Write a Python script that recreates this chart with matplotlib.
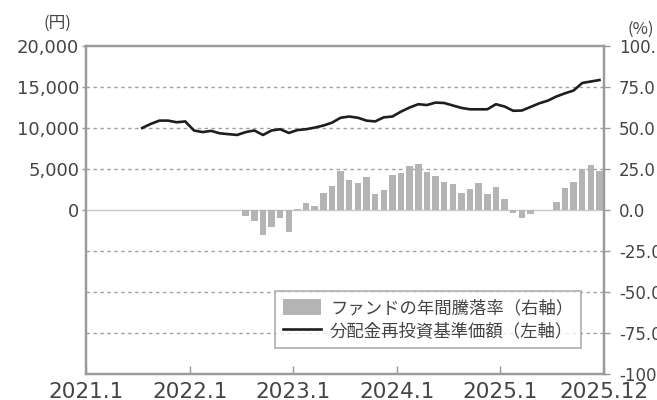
"""Fund NAV (reinvested) vs. annual return chart, 2021.1-2025.12."""

import matplotlib.pyplot as plt
import numpy as np
from matplotlib.ticker import FixedLocator, FuncFormatter

plt.switch_backend("Agg")
plt.rcParams["font.family"] = ["DejaVu Sans", "Noto Sans CJK JP"]

# months counted from 2021.1 (= 0)
NAV_START = 6      # 2021.7
RETURN_START = 18  # 2022.7

nav_values = [
    10000, 10500, 10900, 10900, 10700, 10800,
    9700, 9500, 9650, 9350, 9250, 9150, 9500, 9700, 9150, 9700, 9850, 9400,
    9750, 9850, 10050, 10300, 10650, 11250, 11400, 11250, 10900, 10800, 11300, 11400,
    12000, 12500, 12900, 12800, 13100, 13050, 12750, 12450, 12280, 12280, 12280, 12900,
    12620, 12100, 12130, 12560, 13000, 13330, 13840, 14230, 14570, 15490, 15670, 15850,
]

annual_return = [
    -3.5, -7.0, -15.5, -10.5, -5.0, -13.5,
    0.5, 4.0, 2.5, 10.5, 14.5, 23.5, 18.0, 16.3, 20.2, 9.8, 12.5, 21.5,
    22.6, 27.0, 28.3, 23.4, 20.7, 17.0, 16.0, 10.6, 12.6, 16.5, 9.7, 14.0,
    6.5, -1.6, -5.0, -2.6, 0.3, 0.3, 5.0, 13.7, 17.3, 25.0, 27.4, 24.0,
]

x_tick_months = [0, 12, 24, 36, 48, 60]
x_tick_labels = ["2021.1", "2022.1", "2023.1", "2024.1", "2025.1", "2025.12"]
left_ticks = [0, 5000, 10000, 15000, 20000]
right_ticks = [-100, -75, -50, -25, 0, 25, 50, 75, 100]

LABEL_RET = "ファンドの年間騰落率（右軸）"
LABEL_NAV = "分配金再投資基準価額（左軸）"

TEXT = "#444444"
SPINE = "#9a9a9a"

fig = plt.figure(figsize=(6.57, 4.0), dpi=100)
ax = fig.add_axes([0.131, 0.065, 0.788, 0.82])
ax2 = ax.twinx()

x_nav = np.arange(NAV_START, NAV_START + len(nav_values)) + 0.5
x_ret = np.arange(RETURN_START, RETURN_START + len(annual_return)) + 0.5

# bars on the right (%) axis, line on the left (yen) axis drawn on top
bars = ax2.bar(x_ret, annual_return, width=0.75, color="#b4b4b4", zorder=2,
               label=LABEL_RET)
ax2.axhline(0, color="#c8c8c8", lw=1.0, zorder=1)
for v in [-75, -50, -25, 25, 50, 75]:
    ax2.axhline(v, color="#a0a0a0", lw=1.0, ls=(0, (2.5, 2.5)), zorder=0)

line, = ax.plot(x_nav, nav_values, color="#1e1e1e", lw=1.9, zorder=3,
                label=LABEL_NAV)
ax.set_zorder(ax2.get_zorder() + 1)
ax.patch.set_visible(False)

ax.set_xlim(0, 60)
ax.set_ylim(-20000, 20000)
ax2.set_ylim(-100, 100)

ax.xaxis.set_major_locator(FixedLocator(x_tick_months))
ax.set_xticklabels(x_tick_labels)
ax.tick_params(axis="x", direction="in", length=6, width=1, color=SPINE,
               labelsize=15.5, labelcolor=TEXT, pad=6)

ax.yaxis.set_major_locator(FixedLocator(left_ticks))
ax.yaxis.set_major_formatter(FuncFormatter(lambda v, _: f"{v:,.0f}"))
ax.tick_params(axis="y", direction="out", length=3, width=1, color=SPINE,
               labelsize=13, labelcolor=TEXT, pad=2)

ax2.yaxis.set_major_locator(FixedLocator(right_ticks))
ax2.yaxis.set_major_formatter(FuncFormatter(lambda v, _: f"{v:.1f}"))
ax2.tick_params(axis="y", direction="out", length=4, width=1, color=SPINE,
                labelsize=12, labelcolor=TEXT, pad=7)

for a in (ax, ax2):
    for s in a.spines.values():
        s.set_color(SPINE)
        s.set_linewidth(1.6)

fig.text(0.088, 0.92, "(円)", fontsize=12, color=TEXT,
         family=["Noto Sans CJK JP"], ha="center", va="bottom")
fig.text(0.976, 0.905, "(%)", fontsize=12, color=TEXT,
         family=["Noto Sans CJK JP"], ha="center", va="bottom")

leg = ax.legend([bars, line], [LABEL_RET, LABEL_NAV], loc="lower right",
                bbox_to_anchor=(0.973, 0.052), frameon=True, fancybox=False,
                handlelength=2.2, handleheight=1.1, handletextpad=0.5,
                borderpad=0.45, labelspacing=0.3,
                prop={"family": "Noto Sans CJK JP", "size": 12.5})
leg.get_frame().set_edgecolor(SPINE)
leg.get_frame().set_linewidth(1.2)
for t in leg.get_texts():
    t.set_color(TEXT)

fig.savefig("out.png", dpi=100)
